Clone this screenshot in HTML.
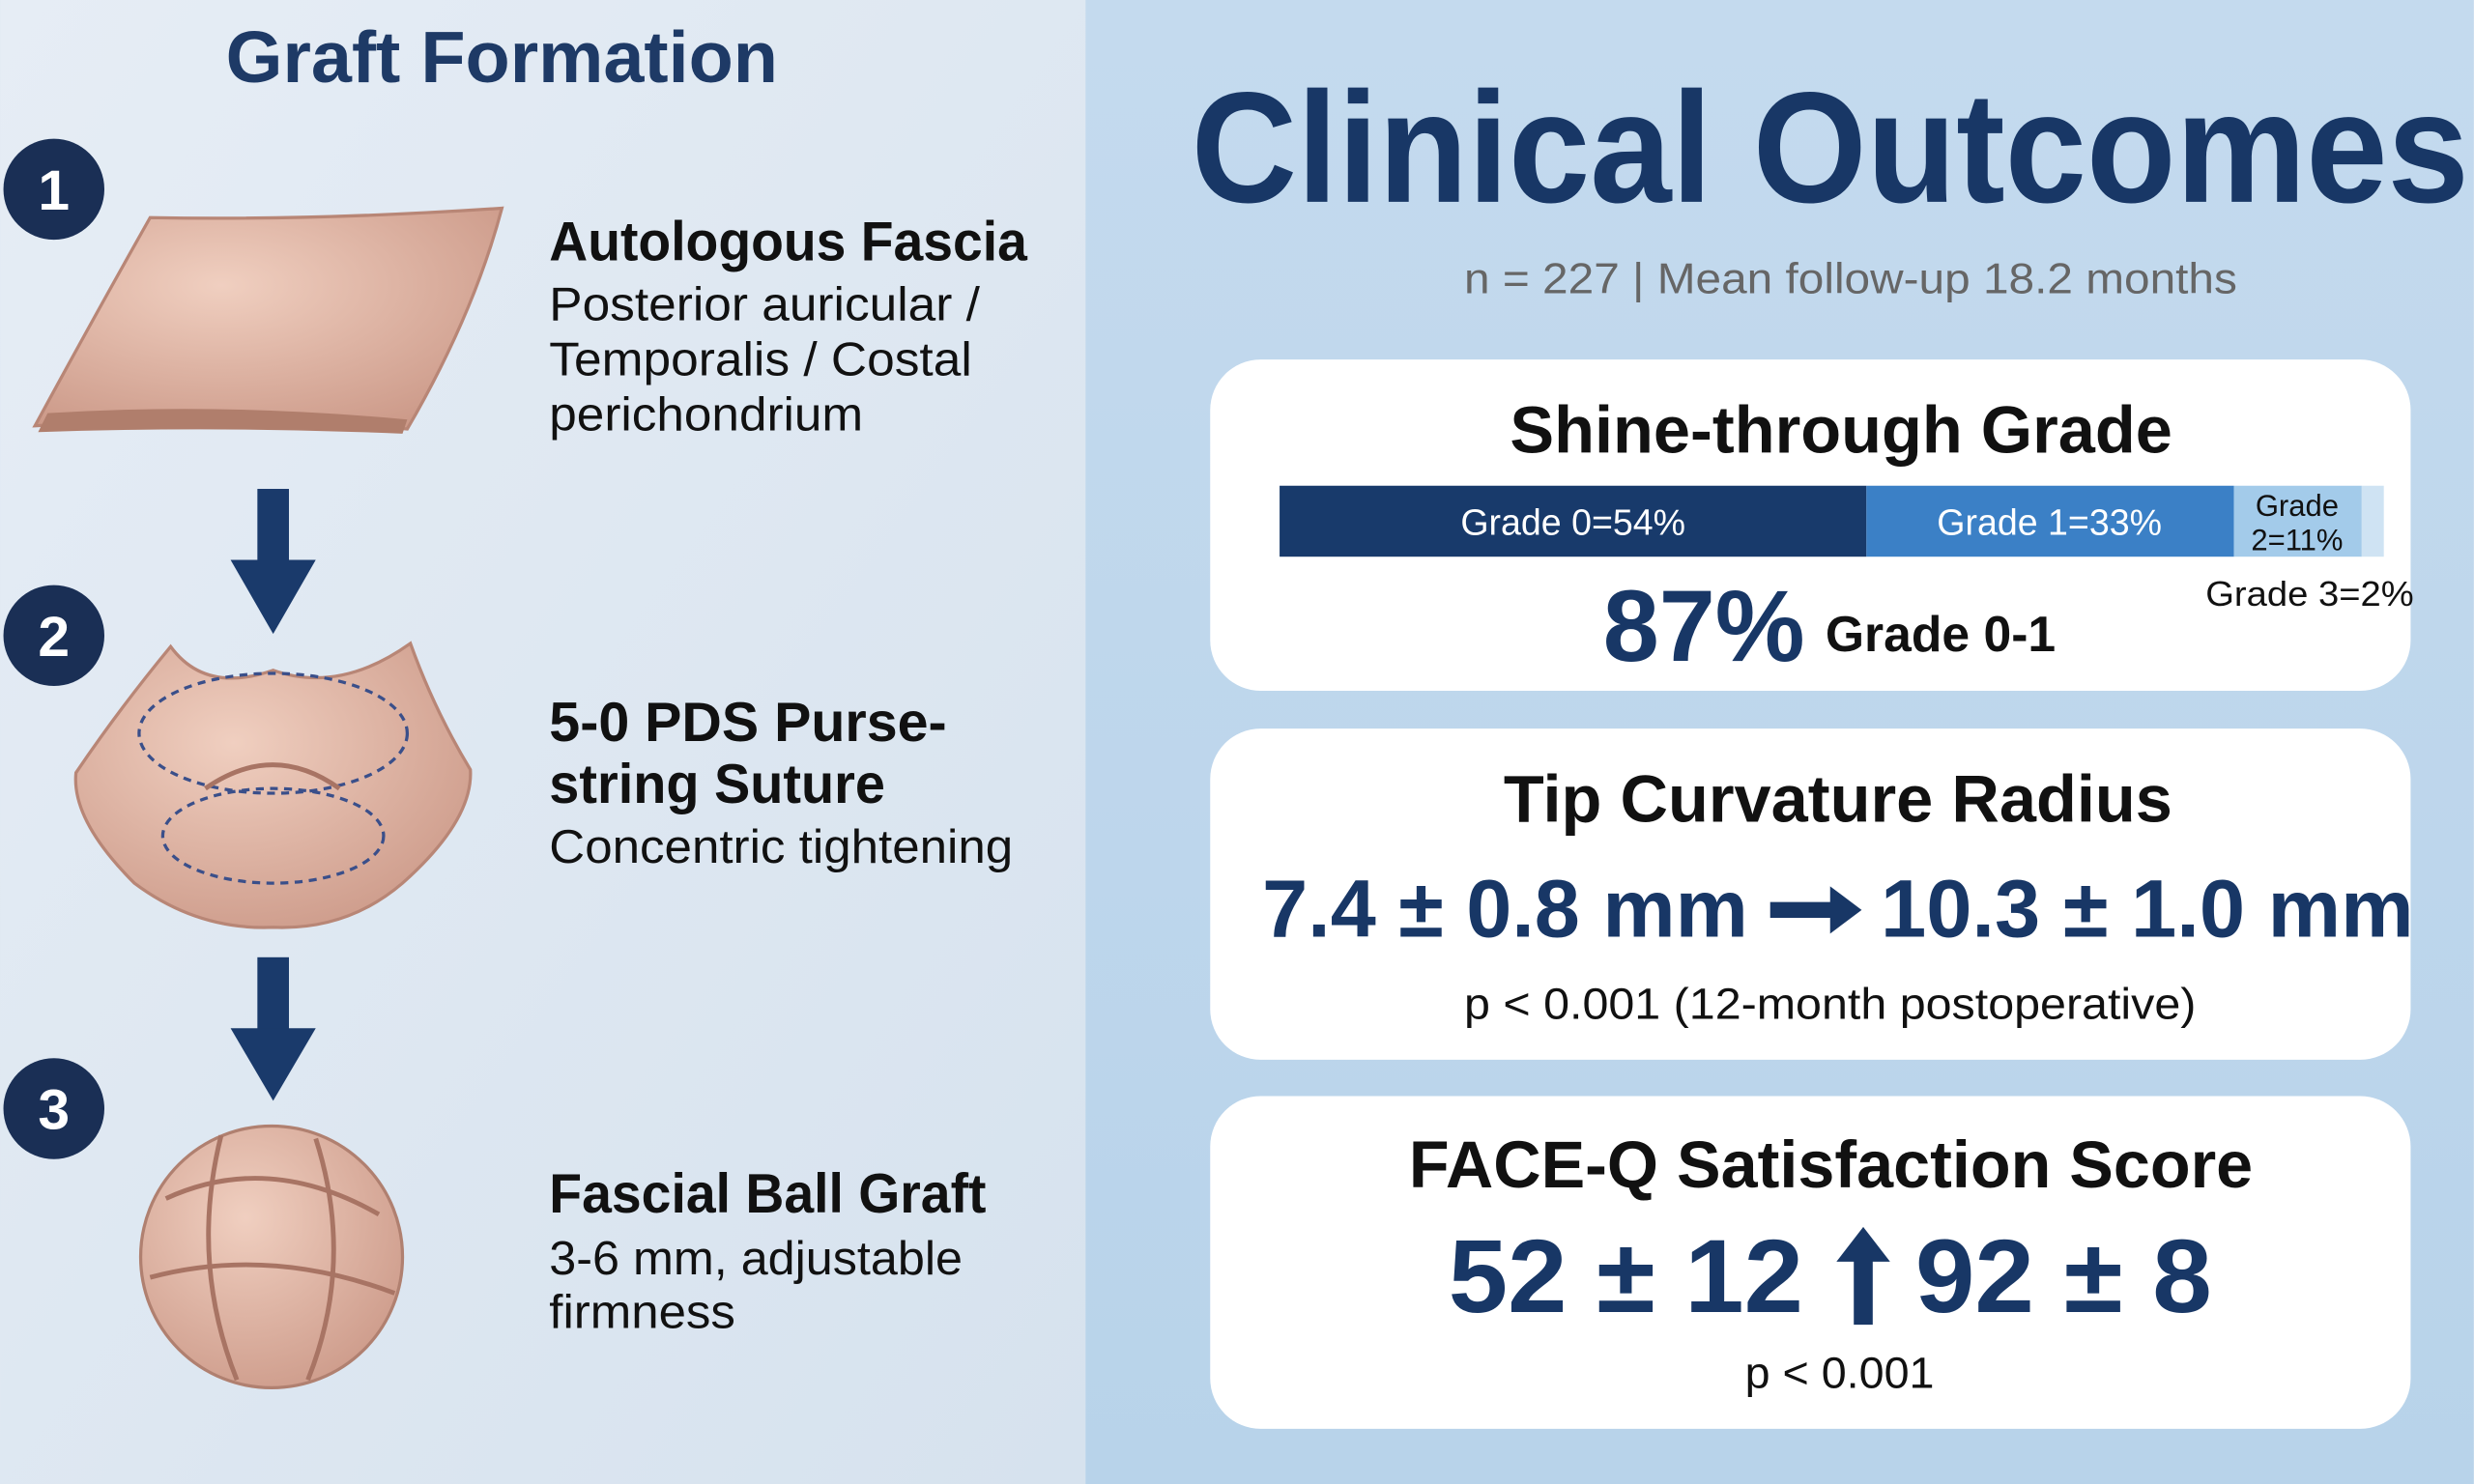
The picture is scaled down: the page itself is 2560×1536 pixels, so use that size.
<!DOCTYPE html>
<html><head><meta charset="utf-8"><style>
html,body{margin:0;padding:0;width:2560px;height:1536px;overflow:hidden;background:#dfe8f2}
svg{display:block}
text{font-family:"Liberation Sans","DejaVu Sans",sans-serif}
</style></head><body>
<svg width="2560" height="1536" viewBox="0 0 1568 941" xmlns="http://www.w3.org/2000/svg">
<defs>
<linearGradient id="lg" x1="0" y1="0" x2="1" y2="1"><stop offset="0" stop-color="#e6edf5"/><stop offset="1" stop-color="#d6e2ee"/></linearGradient>
<linearGradient id="rg" x1="0" y1="0" x2="0" y2="1"><stop offset="0" stop-color="#c4daee"/><stop offset="1" stop-color="#b8d3ea"/></linearGradient>
<radialGradient id="tis" cx="0.4" cy="0.35" r="0.8"><stop offset="0" stop-color="#f0cfc0"/><stop offset="1" stop-color="#c99584"/></radialGradient>
</defs>
<rect x="0" y="0" width="688" height="941" fill="url(#lg)"/>
<rect x="688" y="0" width="880" height="941" fill="url(#rg)"/>

<text x="318" y="52" text-anchor="middle" font-size="46" font-weight="bold" fill="#1e3a66" textLength="350" lengthAdjust="spacingAndGlyphs">Graft Formation</text>

<g fill="#1a2f55"><circle cx="34" cy="120" r="32"/><circle cx="34" cy="403" r="32"/><circle cx="34" cy="703" r="32"/></g>
<g fill="#fff" font-size="36" font-weight="bold" text-anchor="middle"><text x="34" y="133">1</text><text x="34" y="416">2</text><text x="34" y="716">3</text></g>

<!-- fascia sheet -->
<path d="M95,138 Q200,140 318,132 Q300,200 258,272 Q140,262 22,270 Q60,200 95,138 Z" fill="url(#tis)" stroke="#b88676" stroke-width="2"/>
<path d="M30,262 Q140,255 258,266 L255,275 Q140,270 24,274 Z" fill="#b07e6c"/>

<!-- arrows -->
<g fill="#1a3a6b"><rect x="163" y="310" width="20" height="55"/><path d="M146,355 L200,355 L173,402 Z"/>
<rect x="163" y="607" width="20" height="55"/><path d="M146,652 L200,652 L173,698 Z"/></g>

<!-- purse string -->
<path d="M108,410 Q130,440 173,425 Q215,440 260,408 Q275,450 298,488 Q300,520 255,560 Q220,590 173,588 Q125,590 85,560 Q45,520 48,490 Q75,450 108,410 Z" fill="url(#tis)" stroke="#b88676" stroke-width="2"/>
<ellipse cx="173" cy="465" rx="85" ry="38" fill="none" stroke="#3a4f8a" stroke-width="2" stroke-dasharray="5,4"/>
<ellipse cx="173" cy="530" rx="70" ry="30" fill="none" stroke="#3a4f8a" stroke-width="2" stroke-dasharray="5,4"/>
<path d="M130,500 Q173,470 215,500" fill="none" stroke="#a87464" stroke-width="3"/>

<!-- ball -->
<circle cx="172" cy="797" r="83" fill="url(#tis)" stroke="#b08070" stroke-width="2"/>
<g fill="none" stroke="#a87464" stroke-width="3"><path d="M105,760 Q170,730 240,770"/><path d="M95,810 Q170,790 250,820"/><path d="M140,720 Q120,800 150,875"/><path d="M200,722 Q225,800 195,875"/></g>

<g fill="#111">
<text x="348" y="165" font-size="35" font-weight="bold" textLength="303" lengthAdjust="spacingAndGlyphs">Autologous Fascia</text>
<text x="348" y="203" font-size="30" textLength="273" lengthAdjust="spacingAndGlyphs">Posterior auricular /</text>
<text x="348" y="238" font-size="30" textLength="268" lengthAdjust="spacingAndGlyphs">Temporalis / Costal</text>
<text x="348" y="273" font-size="30" textLength="199" lengthAdjust="spacingAndGlyphs">perichondrium</text>
<text x="348" y="470" font-size="35" font-weight="bold" textLength="252" lengthAdjust="spacingAndGlyphs">5-0 PDS Purse-</text>
<text x="348" y="509" font-size="35" font-weight="bold" textLength="213" lengthAdjust="spacingAndGlyphs">string Suture</text>
<text x="348" y="547" font-size="30" textLength="294" lengthAdjust="spacingAndGlyphs">Concentric tightening</text>
<text x="348" y="769" font-size="35" font-weight="bold" textLength="277" lengthAdjust="spacingAndGlyphs">Fascial Ball Graft</text>
<text x="348" y="808" font-size="30" textLength="262" lengthAdjust="spacingAndGlyphs">3-6 mm, adjustable</text>
<text x="348" y="842" font-size="30" textLength="118" lengthAdjust="spacingAndGlyphs">firmness</text>
</g>

<text x="755" y="128" font-size="100" font-weight="bold" fill="#183766" textLength="810" lengthAdjust="spacingAndGlyphs">Clinical Outcomes</text>
<text x="928" y="186" font-size="27" fill="#666" textLength="490" lengthAdjust="spacingAndGlyphs">n = 227 | Mean follow-up 18.2 months</text>

<g fill="#fff"><rect x="767" y="228" width="761" height="210" rx="32"/><rect x="767" y="462" width="761" height="210" rx="32"/><rect x="767" y="695" width="761" height="211" rx="32"/></g>

<g fill="#111" font-weight="bold">
<text x="957" y="287" font-size="42" textLength="420" lengthAdjust="spacingAndGlyphs">Shine-through Grade</text>
<text x="953" y="521" font-size="42" textLength="424" lengthAdjust="spacingAndGlyphs">Tip Curvature Radius</text>
<text x="893" y="753" font-size="42" textLength="535" lengthAdjust="spacingAndGlyphs">FACE-Q Satisfaction Score</text>
</g>

<rect x="811" y="308" width="372" height="45" fill="#183a6b"/>
<rect x="1183" y="308" width="233" height="45" fill="#3b80c6"/>
<rect x="1416" y="308" width="81" height="45" fill="#a3cbea"/>
<rect x="1497" y="308" width="14" height="45" fill="#cfe3f3"/>
<text x="997" y="339" text-anchor="middle" font-size="23" fill="#fff">Grade 0=54%</text>
<text x="1299" y="339" text-anchor="middle" font-size="23" fill="#fff">Grade 1=33%</text>
<text x="1456" y="327" text-anchor="middle" font-size="19" fill="#111">Grade</text>
<text x="1456" y="349" text-anchor="middle" font-size="19" fill="#111">2=11%</text>
<text x="1398" y="384" font-size="22" fill="#111" textLength="132" lengthAdjust="spacingAndGlyphs">Grade 3=2%</text>
<text x="1016" y="419" font-size="64" font-weight="bold" fill="#183766" textLength="128" lengthAdjust="spacingAndGlyphs">87%</text>
<text x="1157" y="413" font-size="32" font-weight="bold" fill="#111" textLength="146" lengthAdjust="spacingAndGlyphs">Grade 0-1</text>

<text x="800" y="594" font-size="52" font-weight="bold" fill="#183766" textLength="308" lengthAdjust="spacingAndGlyphs">7.4 ± 0.8 mm</text>
<path d="M1122,572 L1160,572 L1160,562 L1180,577 L1160,592 L1160,582 L1122,582 Z" fill="#183766"/>
<text x="1192" y="594" font-size="52" font-weight="bold" fill="#183766" textLength="338" lengthAdjust="spacingAndGlyphs">10.3 ± 1.0 mm</text>
<text x="928" y="646" font-size="28" fill="#111" textLength="464" lengthAdjust="spacingAndGlyphs">p &lt; 0.001 (12-month postoperative)</text>

<text x="918" y="832" font-size="66" font-weight="bold" fill="#183766" textLength="225" lengthAdjust="spacingAndGlyphs">52 ± 12</text>
<path d="M1175,840 L1175,800 L1164,800 L1181,778 L1198,800 L1187,800 L1187,840 Z" fill="#183766"/>
<text x="1214" y="832" font-size="66" font-weight="bold" fill="#183766" textLength="188" lengthAdjust="spacingAndGlyphs">92 ± 8</text>
<text x="1106" y="880" font-size="28" fill="#111" textLength="120" lengthAdjust="spacingAndGlyphs">p &lt; 0.001</text>
</svg>
</body></html>
